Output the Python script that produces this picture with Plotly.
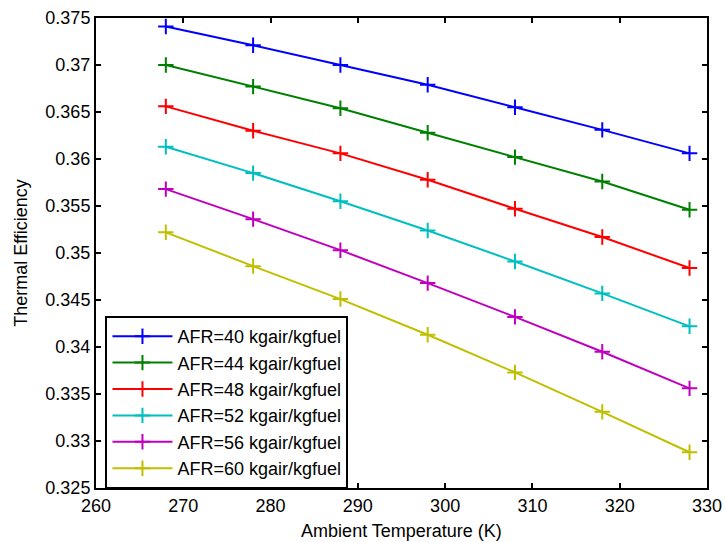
import plotly.graph_objects as go

temps = [268, 278, 288, 298, 308, 318, 328]
afr_labels = ["AFR=40 kgair/kgfuel", "AFR=44 kgair/kgfuel", "AFR=48 kgair/kgfuel",
              "AFR=52 kgair/kgfuel", "AFR=56 kgair/kgfuel", "AFR=60 kgair/kgfuel"]
eff_afr40 = [0.3741, 0.3721, 0.3700, 0.3679, 0.3655, 0.3631, 0.3606]
eff_afr44 = [0.3700, 0.3677, 0.3654, 0.3628, 0.3602, 0.3576, 0.3546]
eff_afr48 = [0.3656, 0.3630, 0.3606, 0.3578, 0.3547, 0.3517, 0.3484]
eff_afr52 = [0.3613, 0.3585, 0.3555, 0.3524, 0.3491, 0.3457, 0.3422]
eff_afr56 = [0.3568, 0.3536, 0.3503, 0.3468, 0.3432, 0.3395, 0.3356]
eff_afr60 = [0.3522, 0.3486, 0.3451, 0.3413, 0.3373, 0.3331, 0.3288]
series = [eff_afr40, eff_afr44, eff_afr48, eff_afr52, eff_afr56, eff_afr60]
colors = ["#0000FF", "#008000", "#FF0000", "#00BFBF", "#BF00BF", "#BFBF00"]

x_ticks = [260, 270, 280, 290, 300, 310, 320, 330]
y_ticks = [0.325, 0.33, 0.335, 0.34, 0.345, 0.35, 0.355, 0.36, 0.365, 0.37, 0.375]
y_ticktext = ["0.325", "0.33", "0.335", "0.34", "0.345", "0.35", "0.355", "0.36", "0.365", "0.37", "0.375"]

FONT = "Arial, Liberation Sans, sans-serif"

fig = go.Figure()
for i, (name, ys, c) in enumerate(zip(afr_labels, series, colors)):
    fig.add_trace(go.Scatter(
        x=temps, y=ys, name=name, mode="lines+markers",
        legendgroup=f"g{i}",
        line=dict(color=c, width=2),
        marker=dict(symbol="cross-thin", size=11, line=dict(color=c, width=2)),
    ))

axis_common = dict(
    showline=True, linecolor="black", linewidth=2, mirror="ticks",
    ticks="inside", ticklen=5, tickwidth=1.5, tickcolor="black",
    showgrid=False, zeroline=False, automargin=False,
    tickfont=dict(family=FONT, size=18, color="black"),
)

fig.update_layout(
    width=725, height=542,
    margin=dict(l=96, r=18, t=18, b=54),
    paper_bgcolor="white", plot_bgcolor="white",
    font=dict(family=FONT, color="black"),
    xaxis=dict(range=[260, 330], tickvals=x_ticks, ticktext=[str(v) for v in x_ticks],
               title=dict(text="Ambient Temperature (K)", font=dict(size=18), standoff=10),
               **axis_common),
    yaxis=dict(range=[0.325, 0.375], tickvals=y_ticks, ticktext=y_ticktext,
               title=dict(text="Thermal Efficiency", font=dict(size=18), standoff=13),
               **axis_common),
    legend=dict(
        x=0.0155, y=0.366, xanchor="left", yanchor="top",
        bgcolor="white", bordercolor="black", borderwidth=2,
        font=dict(family=FONT, size=18, color="black"),
        tracegroupgap=0, itemwidth=60,
    ),
    showlegend=True,
)

fig.write_html("out.html", config={"displayModeBar": False},
               post_script="document.body.style.margin='0px';")
